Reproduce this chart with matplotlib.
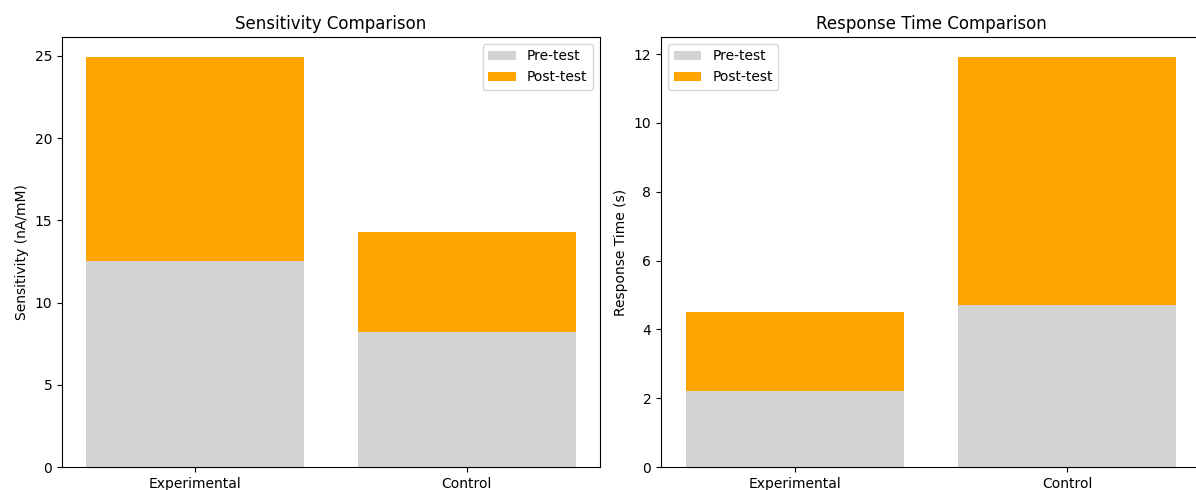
import matplotlib
matplotlib.use("Agg")
import matplotlib.pyplot as plt

groups = ["Experimental", "Control"]
sens_pre = [12.5, 8.2]
sens_post = [12.4, 6.1]
resp_pre = [2.2, 4.7]
resp_post = [2.3, 7.2]

W, H = 1196, 490
fig = plt.figure(figsize=(W / 100, H / 100), dpi=100)
ax1 = fig.add_axes([62 / W, 23 / H, 538 / W, 430 / H])
ax2 = fig.add_axes([661 / W, 23 / H, 540 / W, 430 / H])

ax1.bar(groups, sens_pre, color="lightgray", label="Pre-test")
ax1.bar(groups, sens_post, bottom=sens_pre, color="orange", label="Post-test")
ax1.set_title("Sensitivity Comparison")
ax1.set_ylabel("Sensitivity (nA/mM)")
ax1.legend(loc="upper right")

ax2.bar(groups, resp_pre, color="lightgray", label="Pre-test")
ax2.bar(groups, resp_post, bottom=resp_pre, color="orange", label="Post-test")
ax2.set_title("Response Time Comparison")
ax2.set_ylabel("Response Time (s)")
ax2.legend(loc="upper left")

fig.savefig("out.png", dpi=100)
